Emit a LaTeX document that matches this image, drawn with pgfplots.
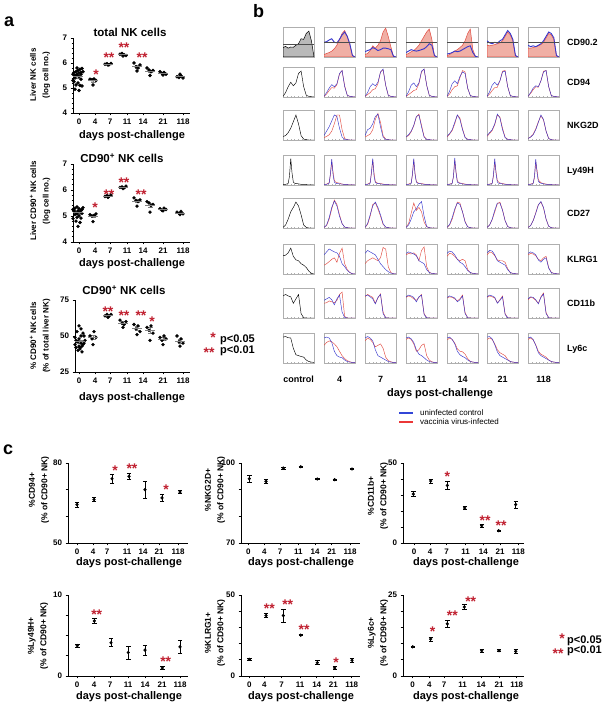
\documentclass[border=0pt]{standalone}
\usepackage{fontspec}
\setmainfont{Liberation Sans}
\usepackage{pgfplots}
\usepackage{pgfplotstable}
\pgfplotsset{compat=1.18}
\definecolor{sred}{RGB}{192,32,48}
\definecolor{hblue}{RGB}{55,55,205}
\definecolor{hred}{RGB}{225,75,65}
\definecolor{hfill}{RGB}{240,175,165}
\definecolor{hframe}{RGB}{175,175,175}
\definecolor{legblue}{RGB}{50,70,215}
\definecolor{legred}{RGB}{235,55,55}
\newcommand{\tickf}{\fontsize{8}{9.6}\selectfont\bfseries}
\newcommand{\titf}{\fontsize{11.5}{13}\selectfont\bfseries}
\newcommand{\dayf}{\fontsize{11}{13}\selectfont\bfseries}
\newcommand{\ylf}{\fontsize{8}{12.5}\selectfont\bfseries}
\newcommand{\clf}{\fontsize{8.5}{12.5}\selectfont\bfseries}
\newcommand{\lblf}{\fontsize{9}{11}\selectfont\bfseries}
\newcommand{\legf}{\fontsize{8}{10}\selectfont}
\newcommand{\pf}{\fontsize{11}{13}\selectfont\bfseries}
\newcommand{\panf}{\fontsize{18}{20}\selectfont\bfseries}
\newcommand{\st}[3]{\node[text=sred, font=\fontsize{14}{14}\selectfont\bfseries, inner sep=0, yshift=-3pt] at (axis cs:#1,#2) {#3};}

% ---------- histogram tables (panel b) ----------
\pgfplotstableread{
x c b4 r4 b7 r7 b11 r11 b14 r14 b21 r21 b118 r118
0 0.32 0.50 0.08 0.18 0.08 0.15 0.08 0.10 0.05 0.55 0.40 0.40 0.30
1 0.36 0.52 0.12 0.22 0.12 0.20 0.12 0.12 0.08 0.48 0.38 0.35 0.30
2 0.30 0.58 0.15 0.25 0.22 0.25 0.18 0.15 0.15 0.45 0.40 0.38 0.32
3 0.34 0.62 0.20 0.32 0.38 0.22 0.22 0.20 0.20 0.50 0.42 0.35 0.35
4 0.33 0.50 0.28 0.28 0.30 0.20 0.30 0.18 0.25 0.47 0.45 0.40 0.38
5 0.40 0.48 0.40 0.22 0.40 0.22 0.40 0.20 0.32 0.55 0.48 0.45 0.42
6 0.45 0.60 0.60 0.25 0.55 0.25 0.55 0.25 0.40 0.60 0.55 0.55 0.50
7 0.62 0.75 0.80 0.30 0.85 0.28 0.70 0.30 0.55 0.75 0.70 0.70 0.65
8 0.60 0.85 0.90 0.30 0.98 0.35 0.85 0.35 0.80 0.90 0.85 0.85 0.80
9 0.80 0.70 0.70 0.28 0.70 0.45 0.95 0.38 0.95 0.80 0.75 0.80 0.75
10 0.88 0.45 0.40 0.25 0.35 0.40 0.60 0.15 0.25 0.60 0.55 0.65 0.60
11 0.55 0.05 0.05 0.03 0.03 0.05 0.05 0.02 0.02 0.05 0.05 0.05 0.05
12 0 0 0 0 0 0 0 0 0 0 0 0 0
}\tA
\pgfplotstableread{
x c b4 r4 b7 r7 b11 r11 b14 r14 b21 r21 b118 r118
0 .02 .02 .02 .02 .02 .02 .02 .02 .02 .02 .02 .02 .02
1 .15 .15 .10 .15 .08 .18 .08 .20 .10 .18 .10 .15 .12
2 .35 .30 .22 .35 .15 .40 .15 .45 .25 .40 .22 .30 .25
3 .50 .42 .32 .45 .25 .48 .22 .55 .35 .50 .32 .38 .35
4 .38 .35 .30 .38 .28 .35 .25 .45 .38 .40 .33 .35 .33
5 .48 .45 .42 .50 .45 .48 .45 .70 .65 .55 .55 .55 .55
6 .80 .80 .78 .85 .85 .88 .85 .85 .90 .85 .88 .85 .88
7 .88 .90 .90 .95 .92 .95 .95 .80 .85 .88 .90 .90 .90
8 .35 .35 .38 .40 .40 .40 .40 .30 .30 .35 .35 .35 .35
9 .06 .06 .06 .06 .06 .06 .06 .05 .05 .05 .05 .05 .05
10 .02 .02 .02 .02 .02 .02 .02 .02 .02 .02 .02 .02 .02
11 .01 .01 .01 .01 .01 .01 .01 .01 .01 .01 .01 .01 .01
12 0 0 0 0 0 0 0 0 0 0 0 0 0
}\tB
\pgfplotstableread{
x c b4 r4 b7 r7 b11 r11 b14 r14 b21 r21 b118 r118
0 .12 .15 .08 .15 .10 .10 .10 .12 .10 .15 .12 .05 .05
1 .15 .30 .12 .35 .15 .18 .15 .22 .20 .25 .22 .10 .10
2 .25 .45 .18 .40 .20 .30 .28 .35 .32 .35 .32 .18 .20
3 .40 .65 .30 .55 .35 .50 .48 .60 .55 .55 .52 .35 .38
4 .62 .85 .55 .80 .70 .80 .78 .85 .85 .88 .85 .60 .62
5 .85 .80 .85 .88 .90 .85 .88 .70 .75 .75 .78 .85 .82
6 .55 .40 .85 .45 .60 .45 .50 .35 .38 .35 .40 .70 .68
7 .15 .10 .35 .10 .15 .10 .12 .08 .10 .08 .10 .30 .30
8 .03 .02 .05 .02 .03 .02 .02 .02 .02 .02 .02 .05 .05
9 .01 .01 .01 .01 .01 .01 .01 .01 .01 .01 .01 .01 .01
10 0 0 0 0 0 0 0 0 0 0 0 0 0
12 0 0 0 0 0 0 0 0 0 0 0 0 0
}\tC
\pgfplotstableread{
x c b4 r4 b7 r7 b11 r11 b14 r14 b21 r21 b118 r118
0 .02 .02 .02 .02 .02 .02 .02 .02 .02 .02 .02 .02 .02
1 .02 .02 .03 .02 .03 .02 .03 .02 .03 .02 .03 .02 .03
2 .05 .06 .08 .06 .08 .05 .07 .05 .06 .05 .06 .05 .06
2.5 .30 .40 .35 .45 .40 .38 .35 .30 .28 .35 .30 .30 .25
3 .90 .88 .80 .90 .85 .90 .85 .92 .85 .90 .80 .88 .78
3.5 .40 .35 .45 .30 .40 .35 .40 .40 .45 .38 .45 .42 .50
4 .10 .10 .15 .08 .12 .10 .12 .10 .14 .10 .15 .12 .18
4.5 .06 .06 .10 .06 .08 .06 .08 .07 .09 .06 .10 .08 .12
5 .05 .05 .08 .05 .06 .05 .06 .05 .07 .05 .07 .06 .08
6 .04 .04 .06 .04 .05 .04 .05 .04 .05 .04 .05 .04 .05
7 .02 .03 .03 .02 .03 .02 .03 .02 .03 .02 .03 .02 .03
9 .01 .01 .01 .01 .01 .01 .01 .01 .01 .01 .01 .01 .01
12 0 0 0 0 0 0 0 0 0 0 0 0 0
}\tD
\pgfplotstableread{
x c b4 r4 b7 r7 b11 r11 b14 r14 b21 r21 b118 r118
0 .02 .02 .02 .02 .02 .02 .02 .02 .02 .02 .02 .02 .02
1 .10 .10 .08 .15 .12 .10 .15 .12 .10 .10 .10 .08 .08
2 .30 .35 .30 .45 .40 .30 .50 .35 .30 .30 .28 .25 .25
3 .55 .70 .65 .75 .80 .55 .85 .65 .60 .60 .55 .50 .52
4 .70 .92 .95 .88 .85 .65 .60 .85 .88 .85 .82 .78 .80
5 .88 .75 .80 .70 .65 .80 .70 .80 .85 .85 .88 .90 .88
6 .75 .40 .45 .45 .40 .90 .55 .55 .55 .60 .62 .70 .68
7 .45 .15 .15 .15 .12 .40 .20 .20 .22 .25 .25 .30 .30
8 .10 .03 .03 .03 .03 .05 .04 .04 .04 .05 .05 .06 .06
9 .02 .01 .01 .01 .01 .01 .01 .01 .01 .01 .01 .01 .01
10 0 0 0 0 0 0 0 0 0 0 0 0 0
12 0 0 0 0 0 0 0 0 0 0 0 0 0
}\tE
\pgfplotstableread{
x c b4 r4 b7 r7 b11 r11 b14 r14 b21 r21 b118 r118
0 .62 .65 .30 .70 .35 .70 .65 .70 .60 .72 .65 .70 .65
1 .64 .75 .35 .80 .45 .75 .70 .78 .70 .80 .75 .75 .70
2 .72 .85 .42 .75 .50 .72 .68 .75 .68 .78 .72 .72 .68
3 .88 .80 .50 .70 .55 .68 .72 .65 .60 .65 .62 .65 .62
4 .60 .75 .55 .65 .50 .62 .65 .50 .50 .45 .48 .48 .50
5 .48 .72 .40 .50 .45 .45 .45 .40 .45 .40 .45 .40 .45
6 .45 .60 .70 .35 .55 .40 .80 .35 .50 .35 .45 .50 .55
7 .35 .35 .88 .25 .90 .35 .92 .25 .45 .30 .40 .55 .60
8 .30 .25 .35 .15 .85 .15 .25 .12 .15 .15 .18 .20 .22
9 .22 .12 .15 .08 .25 .05 .06 .05 .05 .05 .05 .05 .06
10 .10 .05 .05 .03 .05 .02 .02 .02 .02 .02 .02 .02 .02
11 .02 .01 .01 .01 .01 .01 .01 .01 .01 .01 .01 .01 .01
12 0 0 0 0 0 0 0 0 0 0 0 0 0
}\tF
\pgfplotstableread{
x c b4 r4 b7 r7 b11 r11 b14 r14 b21 r21 b118 r118
0 .75 .60 .50 .75 .72 .72 .70 .70 .68 .72 .70 .65 .62
1 .80 .65 .52 .78 .80 .78 .75 .75 .72 .78 .75 .72 .70
2 .75 .70 .58 .72 .75 .75 .72 .72 .70 .75 .72 .70 .68
3 .72 .62 .55 .65 .70 .70 .65 .68 .65 .70 .68 .62 .60
4 .50 .45 .52 .48 .50 .55 .60 .55 .58 .50 .52 .48 .50
5 .65 .65 .60 .70 .68 .72 .70 .62 .65 .60 .62 .70 .72
6 .80 .78 .80 .80 .82 .78 .80 .75 .78 .72 .75 .82 .85
7 .15 .20 .88 .15 .20 .12 .15 .15 .18 .12 .15 .15 .18
8 .01 .02 .05 .01 .01 .01 .01 .01 .01 .01 .01 .01 .01
9 0 0 0 0 0 0 0 0 0 0 0 0 0
12 0 0 0 0 0 0 0 0 0 0 0 0 0
}\tG
\pgfplotstableread{
x c b4 r4 b7 r7 b11 r11 b14 r14 b21 r21 b118 r118
0 .88 .85 .60 .85 .75 .85 .80 .85 .78 .88 .80 .85 .80
1 .90 .88 .70 .90 .85 .88 .85 .88 .85 .90 .85 .88 .85
2 .86 .85 .75 .85 .80 .82 .80 .80 .80 .82 .80 .80 .78
3 .85 .70 .72 .75 .70 .70 .65 .65 .68 .62 .65 .60 .62
4 .50 .40 .65 .45 .55 .45 .40 .40 .48 .38 .45 .35 .40
5 .28 .25 .55 .25 .60 .30 .45 .28 .40 .25 .35 .25 .30
6 .25 .20 .40 .20 .65 .25 .60 .22 .38 .20 .30 .20 .25
7 .22 .18 .25 .15 .50 .18 .65 .18 .30 .15 .25 .15 .20
8 .20 .10 .15 .10 .20 .10 .25 .10 .15 .10 .12 .10 .10
9 .10 .05 .08 .05 .08 .05 .10 .05 .06 .05 .05 .05 .05
10 .05 .03 .04 .03 .04 .03 .04 .03 .03 .03 .03 .03 .03
11 .03 .02 .02 .02 .02 .02 .02 .02 .02 .02 .02 .02 .02
12 .02 .01 .01 .01 .01 .01 .01 .01 .01 .01 .01 .01 .01
}\tH

\pgfplotsset{
  aax/.style={scale only axis, axis lines=left, axis line style={-, line width=0.8pt},
    tick style={black, line width=0.7pt}, major tick length=2.5pt, minor tick length=1.5pt,
    tick align=outside, ticklabel style={font=\tickf},
    /pgf/number format/assume math mode=true, clip=false,
    xtick={79,95,110,127,143,163,183}, xticklabels={0,4,7,11,14,21,118},
    xmin=73, xmax=190, width=117pt},
  cax/.style={scale only axis, axis lines=left, axis line style={-, line width=0.8pt},
    tick style={black, line width=0.7pt}, major tick length=2.5pt,
    tick align=outside, ticklabel style={font=\tickf},
    /pgf/number format/assume math mode=true, clip=false},
  dots/.style={only marks, mark=*, mark size=1.5pt, black},
  means/.style={only marks, mark=-, mark size=5pt, gray, mark options={line width=0.7pt},
    error bars/.cd, y dir=both, y explicit, error bar style={gray, line width=0.6pt},
    error mark options={rotate=90, gray, mark size=2.5pt, line width=0.6pt}},
  ebp/.style={black, only marks, mark=*, mark size=1.4pt,
    error bars/.cd, y dir=both, y explicit, error bar style={line width=0.7pt},
    error mark options={rotate=90, mark size=2.2pt, line width=0.7pt}},
  hbox/.style={scale only axis, width=31pt, height=30pt, xmin=0, xmax=12, ymin=0, ymax=1.02,
    axis line style={hframe, line width=0.5pt}, xtick={0,1.5,...,12}, ytick={0,0.25,0.5,0.75,1},
    xticklabels={}, yticklabels={}, tick style={hframe, line width=0.3pt},
    major tick length=1pt, tick align=inside, tick pos=left},
}

\newcommand{\hist}[5]{\begin{axis}[hbox, at={(#1pt,#2pt)}]
 \addplot[hred, line width=0.45pt] table[x=x,y=#5]{#3};
 \addplot[hblue, line width=0.45pt] table[x=x,y=#4]{#3};
 \end{axis}}
\newcommand{\histc}[3]{\begin{axis}[hbox, at={(#1pt,#2pt)}]
 \addplot[black, line width=0.45pt] table[x=x,y=c]{#3};
 \end{axis}}
\newcommand{\histf}[5]{\begin{axis}[hbox, at={(#1pt,#2pt)}]
 \addplot[draw=hred, fill=hfill, line width=0.5pt] table[x=x,y=#5]{#3} \closedcycle;
 \addplot[hblue, line width=0.9pt] table[x=x,y=#4]{#3};
 \addplot[gray!60!black, line width=0.4pt] coordinates {(0,0.5) (12,0.5)};
 \end{axis}}
\newcommand{\histfc}[3]{\begin{axis}[hbox, at={(#1pt,#2pt)}]
 \addplot[draw=black, fill=gray!55, line width=0.5pt] table[x=x,y=c]{#3} \closedcycle;
 \addplot[gray!60!black, line width=0.4pt] coordinates {(0,0.45) (12,0.45)};
 \end{axis}}
\newcommand{\histrow}[2]{%
 \histc{283}{#1}{#2}
 \hist{324}{#1}{#2}{b4}{r4}
 \hist{365}{#1}{#2}{b7}{r7}
 \hist{406}{#1}{#2}{b11}{r11}
 \hist{447}{#1}{#2}{b14}{r14}
 \hist{487}{#1}{#2}{b21}{r21}
 \hist{528}{#1}{#2}{b118}{r118}}

\begin{document}
\begin{tikzpicture}[x=1pt,y=1pt]
\useasboundingbox (0,0) rectangle (605,708);

% ================= panel letters =================
\node[font=\panf, anchor=base west, inner sep=0] at (4,681) {a};
\node[font=\panf, anchor=base west, inner sep=0] at (253,690) {b};
\node[font=\panf, anchor=base west, inner sep=0] at (3,253) {c};

% a1
\begin{axis}[aax, at={(73pt,595pt)}, height=75pt, ymin=4, ymax=7, ytick={4,5,6,7}, minor y tick num=4]
\addplot[dots] coordinates {(73,5.30) (75,5.50) (77,5.55) (79,5.60) (81,5.62) (74,5.62) (76,5.65) (78,5.70) (80,5.75) (82,5.78) (77,5.80) (79,5.45) (75,5.40) (81,5.35) (74,5.25) (78,5.20) (80,5.10) (76,5.12) (82,5.08) (75,4.95) (79,4.90) (77,5.50) (73,5.55) (81,5.55) (83,5.65)};
\addplot[dots] coordinates {(90,5.35) (92,5.33) (94,5.36) (96,5.30) (93,5.12)};
\addplot[dots] coordinates {(105,5.95) (107,5.97) (109,5.93) (111,5.98) (108,5.92)};
\addplot[dots] coordinates {(120,6.35) (122,6.38) (124,6.33) (126,6.30) (123,6.28)};
\addplot[dots] coordinates {(134,6.00) (136,5.85) (138,5.80) (140,5.92) (137,5.68)};
\addplot[dots] coordinates {(147,5.80) (149,5.72) (151,5.65) (153,5.70) (150,5.50)};
\addplot[dots] coordinates {(160,5.65) (162,5.58) (164,5.62) (166,5.55) (163,5.52)};
\addplot[dots] coordinates {(177,5.45) (179,5.42) (181,5.48) (183,5.40) (180,5.55)};
\addplot[means] coordinates {(78,5.45) +- (0,0.05) (93,5.29) +- (0,0.05) (108,5.95) +- (0,0.02) (123,6.33) +- (0,0.02) (137,5.85) +- (0,0.06) (150,5.67) +- (0,0.05) (163,5.58) +- (0,0.03) (180,5.46) +- (0,0.03)};
\st{96}{5.67}{*}
\st{109}{6.33}{**}
\st{124}{6.73}{**}
\st{142}{6.33}{**}
\end{axis}
\node[font=\titf, anchor=base] at (130,671) {total NK cells};
\node[font=\ylf, rotate=90, align=center] at (40,633) {Liver NK cells\\(log cell no.)};
\node[font=\dayf, anchor=base] at (132,569) {days post-challenge};

% a2
\begin{axis}[aax, at={(73pt,466pt)}, height=78pt, ymin=4, ymax=7, ytick={4,5,6,7}, minor y tick num=4]
\addplot[dots] coordinates {(73,5.25) (75,5.30) (77,5.35) (79,5.28) (81,5.22) (83,5.32) (74,5.18) (76,5.12) (78,5.20) (80,5.15) (82,5.10) (75,5.05) (79,5.00) (77,4.95) (73,4.90) (81,4.92) (76,4.80) (80,4.75) (78,4.60) (74,5.22) (82,5.25) (77,5.08)};
\addplot[dots] coordinates {(90,5.05) (92,5.00) (94,5.02) (96,5.08) (93,4.78)};
\addplot[dots] coordinates {(105,5.75) (107,5.78) (109,5.76) (111,5.80) (108,5.72)};
\addplot[dots] coordinates {(120,6.10) (122,6.12) (124,6.08) (126,6.15) (123,6.05)};
\addplot[dots] coordinates {(134,5.70) (136,5.60) (138,5.55) (140,5.62) (137,5.38)};
\addplot[dots] coordinates {(147,5.55) (149,5.50) (151,5.40) (153,5.45) (150,5.15)};
\addplot[dots] coordinates {(160,5.28) (162,5.22) (164,5.30) (166,5.25) (163,5.20)};
\addplot[dots] coordinates {(177,5.15) (179,5.10) (181,5.18) (183,5.08) (180,5.05)};
\addplot[means] coordinates {(78,5.13) +- (0,0.05) (93,4.99) +- (0,0.05) (108,5.76) +- (0,0.02) (123,6.10) +- (0,0.02) (137,5.57) +- (0,0.06) (150,5.41) +- (0,0.07) (163,5.25) +- (0,0.02) (180,5.11) +- (0,0.02)};
\st{95}{5.42}{*}
\st{109}{5.95}{**}
\st{124}{6.40}{**}
\st{141}{5.95}{**}
\end{axis}
\node[font=\titf, anchor=base] at (122,545) {CD90\textsuperscript{+} NK cells};
\node[font=\ylf, rotate=90, align=center] at (40,507) {Liver CD90\textsuperscript{+} NK cells\\(log cell no.)};
\node[font=\dayf, anchor=base] at (132,441) {days post-challenge};

% a3
\begin{axis}[aax, at={(75pt,336pt)}, xmin=75, width=115pt, height=72pt, ymin=25, ymax=75, ytick={25,50,75}]
\addplot[dots] coordinates {(75,44) (77,46) (79,48) (81,50) (83,52) (85,47) (76,42) (78,40) (80,41) (82,43) (84,45) (77,53) (81,55) (79,57) (75,49) (83,44) (78,46) (82,39) (80,42) (76,47) (84,50) (79,43) (81,45)};
\addplot[dots] coordinates {(90,50) (92,48) (94,53) (96,49) (93,44)};
\addplot[dots] coordinates {(105,64) (107,65) (109,64) (111,65) (108,63)};
\addplot[dots] coordinates {(120,61) (122,59) (124,58) (126,60) (123,56)};
\addplot[dots] coordinates {(134,58) (136,55) (138,57) (140,53) (137,51)};
\addplot[dots] coordinates {(147,56) (149,54) (151,57) (153,52) (150,47)};
\addplot[dots] coordinates {(160,49) (162,47) (164,50) (166,48) (163,44)};
\addplot[dots] coordinates {(177,50) (179,46) (181,48) (183,45) (180,43)};
\addplot[means] coordinates {(80,46) +- (0,1) (93,49) +- (0,1.5) (108,64.2) +- (0,0.4) (123,59) +- (0,0.9) (137,55.5) +- (0,1.3) (150,54) +- (0,1.8) (163,48) +- (0,1.0) (180,46.5) +- (0,1.3)};
\st{108}{69}{**}
\st{124}{66}{**}
\st{141}{66}{**}
\st{152}{62}{*}
\end{axis}
\node[font=\titf, anchor=base] at (124,413) {CD90\textsuperscript{+} NK cells};
\node[font=\ylf, rotate=90, align=center] at (40,372) {\% CD90\textsuperscript{+} NK cells\\(\% of total liver NK)};
\node[font=\dayf, anchor=base] at (132,307) {days post-challenge};

% p legend (a)
\node[text=sred, font=\fontsize{14}{14}\selectfont\bfseries, inner sep=0, yshift=-3pt] at (213,373) {*};
\node[font=\pf, anchor=base west, inner sep=0] at (220,365) {p<0.05};
\node[text=sred, font=\fontsize{14}{14}\selectfont\bfseries, inner sep=0, yshift=-3pt] at (209,358) {**};
\node[font=\pf, anchor=base west, inner sep=0] at (220,354) {p<0.01};

% ================= panel b =================
\histfc{283}{651}{\tA}
\histf{324}{651}{\tA}{b4}{r4}
\histf{365}{651}{\tA}{b7}{r7}
\histf{406}{651}{\tA}{b11}{r11}
\histf{447}{651}{\tA}{b14}{r14}
\histf{487}{651}{\tA}{b21}{r21}
\histf{528}{651}{\tA}{b118}{r118}
\histrow{611}{\tB}
\histrow{568}{\tC}
\histrow{523}{\tD}
\histrow{480}{\tE}
\histrow{434}{\tF}
\histrow{390}{\tG}
\histrow{345}{\tH}

\foreach \lab/\yy in {CD90.2/666, CD94/626, NKG2D/583, Ly49H/538, CD27/495, KLRG1/449, CD11b/405, Ly6c/360}
  \node[font=\lblf, anchor=base west, inner sep=0] at (567,\yy-3.2) {\lab};
\foreach \lab/\xx in {control/298.5, 4/339.5, 7/380.5, 11/421.5, 14/462.5, 21/502.5, 118/543.5}
  \node[font=\lblf, anchor=base, inner sep=0] at (\xx,325) {\lab};
\node[font=\dayf, anchor=base] at (440,311) {days post-challenge};
\fill[legblue] (399,294) rectangle (413,295.6);
\fill[legred] (399,285.4) rectangle (413,287.2);
\node[font=\legf, anchor=base west, inner sep=0] at (420,292) {uninfected control};
\node[font=\legf, anchor=base west, inner sep=0] at (420,283) {vaccinia virus-infected};

% ================= panel c =================
% c1 CD94
\begin{axis}[cax, at={(68pt,165pt)}, width=120pt, height=80pt, xmin=68, xmax=188, ymin=50, ymax=80,
  ytick={50,60,70,80}, yticklabels={50,,,80}, xtick={77,93,107,127,143,159,178}, xticklabels={0,4,7,11,14,21,118}]
\addplot[ebp] coordinates {(77,64.4) +- (0,1.0) (94,66.3) +- (0,0.8) (112,74.1) +- (0,1.6) (129,75.0) +- (0,1.0) (145,70.0) +- (0,3.2) (162,66.9) +- (0,1.3) (180,69.1) +- (0,0.5)};
\st{115}{78.4}{*}
\st{132}{79.0}{**}
\st{166}{71.0}{*}
\end{axis}
\node[font=\clf, rotate=90, align=center] at (39,218) {\%CD94+\\(\% of CD90+ NK)};
\node[font=\dayf, anchor=base] at (129,142) {days post-challenge};

% c2 NKG2D
\begin{axis}[cax, at={(241pt,165pt)}, width=119pt, height=80pt, xmin=241, xmax=360, ymin=70, ymax=100,
  ytick={70,80,90,100}, yticklabels={70,,,100}, xtick={248.3,264.3,280,298.3,315,331.7,350}, xticklabels={0,4,7,11,14,21,118}]
\addplot[ebp] coordinates {(249.3,94.1) +- (0,1.2) (266,93.1) +- (0,0.7) (283.3,98.1) +- (0,0.3) (300.7,98.6) +- (0,0.3) (317.3,94.0) +- (0,0.3) (334.7,93.75) +- (0,0.3) (352,97.75) +- (0,0.3)};
\end{axis}
\node[font=\clf, rotate=90, align=center] at (215,218) {\%NKG2D+\\(\% of CD90+ NK)};
\node[font=\dayf, anchor=base] at (301,142) {days post-challenge};

% c3 CD11b
\begin{axis}[cax, at={(403pt,165pt)}, width=121pt, height=80pt, xmin=403, xmax=524, ymin=0, ymax=50,
  ytick={0,10,20,30,40,50}, yticklabels={0,,,,,50}, xtick={414,430,446.7,465.7,483.3,500,518.3}, xticklabels={0,4,7,11,14,21,118}]
\addplot[ebp] coordinates {(413.3,30.6) +- (0,1.5) (430.7,38.75) +- (0,1.2) (447.3,36.0) +- (0,2.5) (464.7,21.9) +- (0,0.7) (481.7,10.8) +- (0,0.8) (498.7,7.7) +- (0,0.4) (515.7,24.0) +- (0,2.2)};
\st{447.3}{43.3}{*}
\st{485}{15.6}{**}
\st{501}{12.9}{**}
\end{axis}
\node[font=\clf, rotate=90, align=center] at (378,212) {\%CD11b+\\(\% of CD90+ NK)};
\node[font=\dayf, anchor=base] at (466,142) {days post-challenge};

% c4 Ly49H
\begin{axis}[cax, at={(68pt,32pt)}, width=120pt, height=81pt, xmin=68, xmax=188, ymin=0, ymax=10,
  ytick={0,2.5,5,7.5,10}, yticklabels={0,,,,10}, xtick={77,94,110,128,145,162,180}, xticklabels={0,4,7,11,14,21,118}]
\addplot[ebp] coordinates {(77.3,3.75) +- (0,0.2) (94.3,6.8) +- (0,0.3) (111,4.1) +- (0,0.5) (128.3,2.9) +- (0,0.8) (145,3.2) +- (0,0.6) (162.3,1.0) +- (0,0.15) (180,3.6) +- (0,0.8)};
\st{96.7}{7.9}{**}
\st{165.7}{2.1}{**}
\end{axis}
\node[font=\clf, rotate=90, align=center] at (38,72) {\%Ly49H+\\(\% of CD90+ NK)};
\node[font=\dayf, anchor=base] at (129,9) {days post-challenge};

% c5 KLRG1
\begin{axis}[cax, at={(241pt,32pt)}, width=119pt, height=81pt, xmin=241, xmax=360, ymin=0, ymax=50,
  ytick={0,10,20,30,40,50}, yticklabels={0,,,,,50}, xtick={249.3,264.3,281.7,300,316.7,333.3,351.7}, xticklabels={0,4,7,11,14,21,118}]
\addplot[ebp] coordinates {(249.3,10.3) +- (0,0.6) (266,37.3) +- (0,1.2) (283.3,37.3) +- (0,4.0) (300.7,25.2) +- (0,0.3) (317.3,8.2) +- (0,1.2) (334.7,5.0) +- (0,1.0) (352,9.7) +- (0,1.0)};
\st{269.3}{43.5}{**}
\st{287.7}{45.7}{**}
\st{304}{30.2}{**}
\st{336}{10.3}{*}
\end{axis}
\node[font=\clf, rotate=90, align=center] at (215,75) {\%KLRG1+\\(\% of CD90+ NK)};
\node[font=\dayf, anchor=base] at (301,9) {days post-challenge};

% c6 Ly6c
\begin{axis}[cax, at={(403pt,32pt)}, width=121pt, height=81pt, xmin=403, xmax=524, ymin=0, ymax=25,
  ytick={0,5,10,15,20,25}, yticklabels={0,,,,,25}, xtick={412.7,429.3,444,462.7,481,499,516.7}, xticklabels={0,4,7,11,14,21,118}]
\addplot[ebp] coordinates {(412.7,9.0) +- (0,0.3) (430.7,11.4) +- (0,0.6) (447.3,16.1) +- (0,1.0) (464.3,21.3) +- (0,0.8) (481.7,7.8) +- (0,0.4) (499,7.8) +- (0,0.3) (515.7,7.6) +- (0,0.5)};
\st{432.7}{14.5}{*}
\st{452.3}{19.5}{**}
\st{470.7}{24.0}{**}
\end{axis}
\node[font=\clf, rotate=90, align=center] at (378,75) {\%Ly6c+\\(\% of CD90+ NK)};
\node[font=\dayf, anchor=base] at (466,9) {days post-challenge};

% p legend (c)
\node[text=sred, font=\fontsize{14}{14}\selectfont\bfseries, inner sep=0, yshift=-3pt] at (562,72) {*};
\node[font=\pf, anchor=base west, inner sep=0] at (567,64) {p<0.05};
\node[text=sred, font=\fontsize{14}{14}\selectfont\bfseries, inner sep=0, yshift=-3pt] at (558,57) {**};
\node[font=\pf, anchor=base west, inner sep=0] at (567,54) {p<0.01};
\end{tikzpicture}
\end{document}
